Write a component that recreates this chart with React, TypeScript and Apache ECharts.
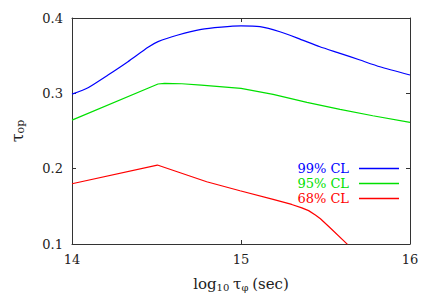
import React, { useEffect, useRef } from "react";
import * as echarts from "echarts";

const xTicks = [14, 15, 16];
const yTicks = [0.1, 0.2, 0.3, 0.4];

const blueX = [14, 14.095, 14.213, 14.331, 14.45, 14.509, 14.627, 14.765, 14.883, 15.0, 15.112, 15.23, 15.349, 15.467, 15.586, 15.704, 15.822, 16];
const blueY = [0.299, 0.3075, 0.3243, 0.342, 0.3611, 0.3686, 0.3774, 0.385, 0.388, 0.3895, 0.3885, 0.3818, 0.372, 0.3619, 0.3531, 0.3442, 0.3353, 0.3243];

const greenX = [14, 14.509, 14.548, 14.65, 14.765, 15.0, 15.19, 15.39, 15.586, 15.78, 16];
const greenY = [0.2645, 0.3124, 0.3133, 0.3127, 0.311, 0.3066, 0.2987, 0.288, 0.2787, 0.2702, 0.2615];

const redX = [14, 14.505, 14.797, 14.994, 15.19, 15.3, 15.36, 15.4, 15.44, 15.47, 15.527, 15.63];
const redY = [0.18, 0.2048, 0.1826, 0.1707, 0.1592, 0.1525, 0.148, 0.1443, 0.1385, 0.1335, 0.1215, 0.0995];

const seriesNames = ["99% CL", "95% CL", "68% CL"];
const seriesColors = ["#0000ff", "#00e000", "#ff0000"];

const FONT = "DejaVu Serif";
const AX = "#333333";

export default function App() {
  const ref = useRef<HTMLDivElement>(null);
  useEffect(() => {
    if (!ref.current) return;
    const chart = echarts.init(ref.current, null, { renderer: "svg" });
    const pairs = (xs: number[], ys: number[]) => xs.map((x, i) => [x, ys[i]]);
    const datasets = [pairs(blueX, blueY), pairs(greenX, greenY), pairs(redX, redY)];
    const common = {
      type: "value",
      splitLine: { show: false },
      axisLine: { show: true, onZero: false, lineStyle: { color: AX, width: 1 } },
      axisTick: { show: true, inside: true, length: 4, lineStyle: { color: AX } },
    };
    chart.setOption({
      animation: false,
      backgroundColor: "#ffffff",
      textStyle: { fontFamily: FONT },
      grid: { left: 72, top: 18, width: 338, height: 226 },
      legend: {
        orient: "vertical",
        right: 37,
        top: 162,
        padding: 0,
        align: "right",
        itemWidth: 40,
        itemHeight: 1.5,
        itemGap: 2,
        icon: "rect",
        textStyle: { fontFamily: FONT, fontSize: 13, padding: [0, 5, 0, 0] },
        data: seriesNames.map((n, i) => ({ name: n, textStyle: { color: seriesColors[i], fontFamily: FONT } })),
      },
      xAxis: [
        {
          ...common,
          min: xTicks[0],
          max: xTicks[xTicks.length - 1],
          interval: 1,
          position: "bottom",
          axisLabel: { color: "#222", fontFamily: FONT, fontSize: 13, margin: 9 },
          name: "{m|log}{s|10} {m|τ}{s|φ} {m|(sec)}",
          nameLocation: "middle",
          nameGap: 31,
          nameTextStyle: {
            fontFamily: FONT,
            rich: {
              m: { fontFamily: FONT, fontSize: 15, color: "#222" },
              s: { fontFamily: FONT, fontSize: 10, color: "#222", verticalAlign: "bottom", padding: [7, 0, 0, 0] },
            },
          },
        },
        {
          ...common,
          min: xTicks[0],
          max: xTicks[xTicks.length - 1],
          interval: 1,
          position: "top",
          axisLabel: { show: false },
        },
      ],
      yAxis: [
        {
          ...common,
          min: yTicks[0],
          max: yTicks[yTicks.length - 1],
          interval: 0.1,
          position: "left",
          axisLabel: {
            color: "#222",
            fontFamily: FONT,
            fontSize: 13,
            margin: 9,
            formatter: (v: number) => v.toFixed(1),
          },
          name: "{m|τ}{s|op}",
          nameLocation: "middle",
          nameGap: 46,
          nameTextStyle: {
            fontFamily: FONT,
            rich: {
              m: { fontFamily: FONT, fontSize: 16, color: "#222" },
              s: { fontFamily: FONT, fontSize: 11, color: "#222", verticalAlign: "bottom", padding: [7, 0, 0, 0] },
            },
          },
        },
        {
          ...common,
          min: yTicks[0],
          max: yTicks[yTicks.length - 1],
          interval: 0.1,
          position: "right",
          axisLabel: { show: false },
        },
      ],
      series: datasets.map((d, i) => ({
        name: seriesNames[i],
        type: "line",
        data: d,
        showSymbol: false,
        symbol: "none",
        smooth: i === 0 ? 0.2 : false,
        clip: true,
        lineStyle: { color: seriesColors[i], width: 1.2 },
        itemStyle: { color: seriesColors[i] },
      })),
    });
    return () => chart.dispose();
  }, []);
  return <div ref={ref} style={{ position: "absolute", left: 0, top: 0, width: 436, height: 305 }} />;
}
